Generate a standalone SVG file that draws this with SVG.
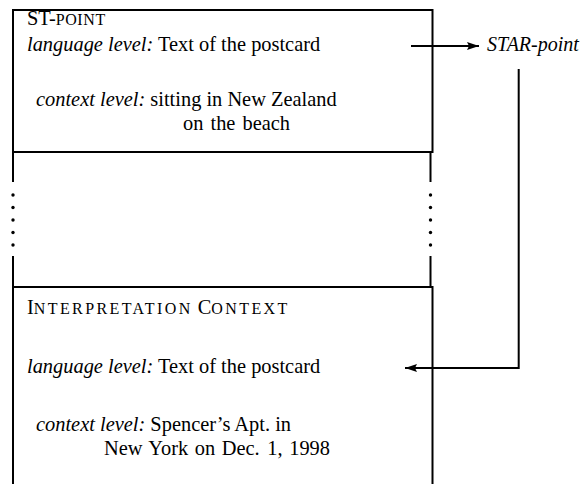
<svg xmlns="http://www.w3.org/2000/svg" width="587" height="484" viewBox="0 0 587 484">
  <style>
    text { font-family: "Liberation Serif", "Times New Roman", serif; font-size: 20.4px; fill: #000; }
    .it { font-style: italic; }
    .sc { font-size: 16px; letter-spacing: 2.4px; }
    .edge { fill: none; stroke: #000; stroke-width: 2; }
    .dot { fill: #000; }
  </style>
  <defs>
    <marker id="head" viewBox="0 0 12 8" refX="12" refY="4" markerWidth="12" markerHeight="8" markerUnits="userSpaceOnUse" orient="auto">
      <path d="M0,0 L12,4 L0,8 L2,4 Z" fill="#000"/>
    </marker>
  </defs>

  <!-- upper frame: the ST-point -->
  <g id="st-point">
    <rect class="edge" x="13" y="10" width="419.5" height="142"/>
    <text x="27" y="25">ST-<tspan class="sc" style="letter-spacing:0.6px">POINT</tspan></text>
    <text x="27" y="51"><tspan class="it">language level:</tspan> Text of the postcard</text>
    <text x="36" y="106"><tspan class="it">context level:</tspan> sitting in New Zealand</text>
    <text x="183" y="130" style="word-spacing:2px">on the beach</text>
  </g>

  <!-- elided stretch between the two frames -->
  <g id="gap">
    <path class="edge" d="M13,152 V182 M13,256 V287 M430.5,152 V182 M430.5,256 V287"/>
    <g class="dot">
      <circle cx="13" cy="195" r="1.7"/>
      <circle cx="13" cy="207.5" r="1.7"/>
      <circle cx="13" cy="220" r="1.7"/>
      <circle cx="13" cy="232.5" r="1.7"/>
      <circle cx="13" cy="245" r="1.7"/>
      <circle cx="430.5" cy="195" r="1.7"/>
      <circle cx="430.5" cy="207.5" r="1.7"/>
      <circle cx="430.5" cy="220" r="1.7"/>
      <circle cx="430.5" cy="232.5" r="1.7"/>
      <circle cx="430.5" cy="245" r="1.7"/>
    </g>
  </g>

  <!-- lower frame: the interpretation context -->
  <g id="interpretation-context">
    <path class="edge" d="M13,484 V287 H432.5 V484"/>
    <text x="27" y="314">I<tspan class="sc">NTERPRETATION</tspan> C<tspan class="sc">ONTEXT</tspan></text>
    <text x="27" y="373"><tspan class="it">language level:</tspan> Text of the postcard</text>
    <text x="36" y="431"><tspan class="it">context level:</tspan> Spencer’s Apt. in</text>
    <text x="104" y="455" style="word-spacing:1.5px">New York on Dec. <tspan dx="1">1, 1998</tspan></text>
  </g>

  <!-- STAR-point label -->
  <g id="star-point">
    <text class="it" x="487" y="51" style="font-size:20px">STAR-point</text>
  </g>

  <!-- connectors -->
  <g id="connectors">
    <path class="edge" d="M411,46 H479" marker-end="url(#head)"/>
    <path class="edge" d="M518.7,69 V368 H405" marker-end="url(#head)"/>
  </g>
</svg>
